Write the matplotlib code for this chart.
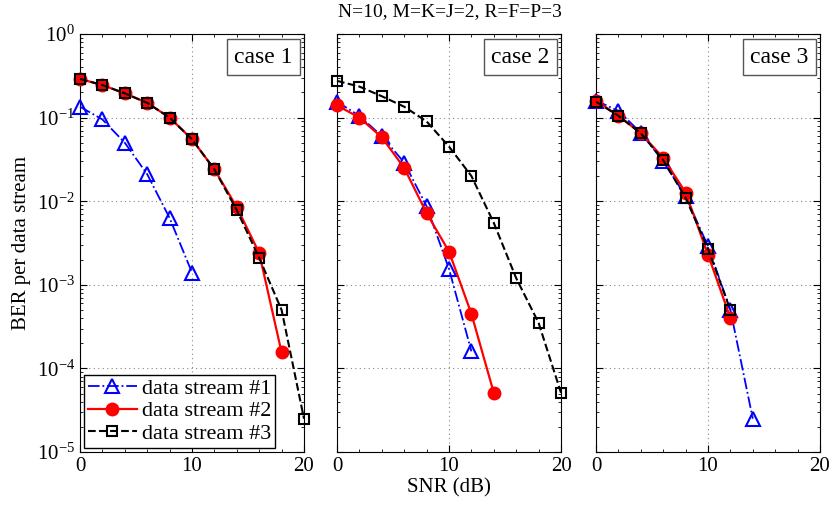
import numpy as np
import matplotlib
matplotlib.use("Agg")
import matplotlib.pyplot as plt
from matplotlib.ticker import LogLocator, MultipleLocator

plt.rcParams['font.family'] = ['Liberation Serif', 'DejaVu Serif']
plt.rcParams['mathtext.fontset'] = 'stix'
plt.rcParams['font.size'] = 14

# SNR (dB)
snr = [0, 2, 4, 6, 8, 10, 12, 14, 16, 18, 20]

# case 1
c1_s1 = [0.135, 0.095, 0.05, 0.021, 0.0063, 0.0014]
c1_s2 = [0.29, 0.245, 0.195, 0.15, 0.1, 0.055, 0.024, 0.0085, 0.0024, 0.000155]
c1_s3 = [0.29, 0.245, 0.195, 0.15, 0.1, 0.055, 0.024, 0.0078, 0.0021, 0.0005, 2.5e-5]

# case 2
c2_s1 = [0.155, 0.105, 0.06, 0.029, 0.0087, 0.00155, 0.00016]
c2_s2 = [0.14, 0.1, 0.058, 0.025, 0.0072, 0.0025, 0.00045, 5.1e-5]
c2_s3 = [0.275, 0.235, 0.18, 0.135, 0.09, 0.045, 0.02, 0.0055, 0.0012, 0.00035, 5.1e-5]

# case 3
c3_s1 = [0.16, 0.12, 0.066, 0.03, 0.0115, 0.0029, 0.0005, 2.5e-5]
c3_s2 = [0.16, 0.105, 0.065, 0.033, 0.0127, 0.0023, 0.0004]
c3_s3 = [0.155, 0.105, 0.065, 0.031, 0.011, 0.0027, 0.0005]

casos = [("case 1", c1_s1, c1_s2, c1_s3),
         ("case 2", c2_s1, c2_s2, c2_s3),
         ("case 3", c3_s1, c3_s2, c3_s3)]

fig = plt.figure(figsize=(8.34, 5.08), dpi=100)
lefts = [80, 337, 596]
ancho = 224
ejes = []
for i, (nombre, s1, s2, s3) in enumerate(casos):
    ax = fig.add_axes([lefts[i] / 834, (508 - 452) / 508, ancho / 834, (452 - 34) / 508])
    ax.semilogy(snr[:len(s1)], s1, color='blue', linestyle='-.', marker='^',
                markersize=10, markerfacecolor='none', markeredgewidth=1.5, linewidth=1.3,
                label='data stream #1', clip_on=False, zorder=3)
    ax.semilogy(snr[:len(s2)], s2, color='red', linestyle='-', marker='o',
                markersize=9, markerfacecolor='red', linewidth=1.6,
                label='data stream #2', clip_on=False, zorder=3)
    ax.semilogy(snr[:len(s3)], s3, color='black', linestyle='--', marker='s',
                markersize=6.5, markerfacecolor='none', markeredgewidth=1.5, linewidth=1.5,
                label='data stream #3', clip_on=False, zorder=3)
    ax.set_xlim(0, 20)
    ax.set_ylim(1e-5, 1)
    ax.xaxis.set_major_locator(MultipleLocator(10))
    ax.xaxis.set_minor_locator(MultipleLocator(2))
    ax.yaxis.set_major_locator(LogLocator(base=10, numticks=10))
    ax.yaxis.set_minor_locator(LogLocator(base=10, subs=np.arange(2, 10), numticks=20))
    ax.tick_params(which='both', direction='in', top=True, right=True)
    ax.tick_params(which='major', length=5, labelsize=15)
    ax.tick_params(which='minor', length=2.5)
    ax.grid(True, which='major', linestyle=(0, (1, 3)), color='#888888', linewidth=0.8)
    if i > 0:
        ax.set_yticklabels([])
    ax.text(0.95, 0.97, nombre, transform=ax.transAxes, ha='right', va='top', fontsize=17,
            bbox=dict(boxstyle='square,pad=0.3', facecolor='white', edgecolor='#555555'))
    ejes.append(ax)
    if i == 0:
        leg = ax.legend(loc='lower left', fontsize=16, fancybox=False, edgecolor='black',
                        framealpha=1, borderpad=0.15, labelspacing=0.1, handlelength=2.2,
                        handletextpad=0.25, borderaxespad=0.2)
        leg.get_frame().set_linewidth(1.0)

ejes[0].set_ylabel('BER per data stream', fontsize=15)
ejes[1].set_xlabel('SNR (dB)', fontsize=15, labelpad=2)
fig.text(450 / 834, 1 - 12 / 508, 'N=10, M=K=J=2, R=F=P=3', ha='center', va='center', fontsize=14)

fig.savefig('out.png', dpi=100)
